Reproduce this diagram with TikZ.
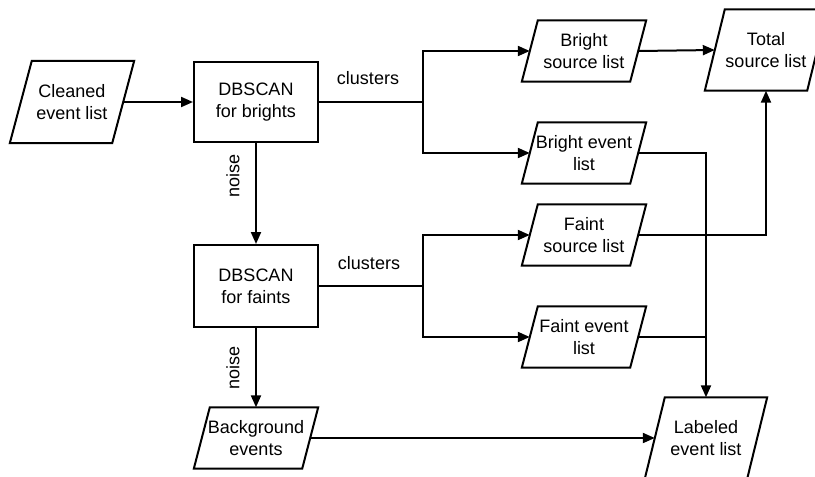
\documentclass[tikz,border=0pt]{standalone}
\usepackage{fontspec}
\setmainfont{Liberation Sans}
\usetikzlibrary{arrows.meta}
\tikzset{
  ln/.style={line width=2pt},
  arr/.style={ln, -{Triangle[length=12pt,width=10pt]}},
  txt/.style={align=center, inner sep=0pt, font=\fontsize{18}{22}\selectfont},
  rbox/.style={txt, draw, ln, minimum width=124pt},
  lbl/.style={txt},
}
\newcommand\paral[7]{%
  \node[txt, minimum width=#4pt, minimum height=#5pt] (#1) at (#2,#3) {#7};
  \draw[ln] ([xshift=-#6pt]#1.south west) -- ([xshift=#6pt]#1.north west)
    -- ([xshift=#6pt]#1.north east) -- ([xshift=-#6pt]#1.south east) -- cycle;
}
\begin{document}
\begin{tikzpicture}[x=1pt,y=-1pt]
\useasboundingbox (0,0) rectangle (815,477);
\paral{clean}{72}{102}{102}{82}{11}{Cleaned\\event list}
\node[rbox, minimum height=80pt] (b1) at (256,102) {DBSCAN\\for brights};
\node[rbox, minimum height=82pt] (b2) at (256,286) {DBSCAN\\for faints};
\paral{bg}{256}{438}{108}{61}{8}{Background\\events}
\paral{bsl}{584}{51}{108}{61}{8}{Bright\\source list}
\paral{bel}{584}{153}{108}{61}{8}{Bright event\\list}
\paral{fsl}{584}{235}{108}{61}{8}{Faint\\source list}
\paral{fel}{584}{337}{108}{61}{8}{Faint event\\list}
\paral{tot}{766}{50}{102}{81}{10}{Total\\source list}
\paral{lab}{706}{438}{102}{81}{10}{Labeled\\event list}
\coordinate (j1) at (423,102);
\coordinate (j2) at (423,286);
\draw[arr] (clean.east) -- (b1.west);
\draw[arr] (b1.south) -- (b2.north);
\draw[arr] (b2.south) -- (bg.north);
\draw[ln] (b1.east) -- (j1);
\draw[arr] (j1) |- (bsl.west);
\draw[arr] (j1) |- (bel.west);
\draw[ln] (b2.east) -- (j2);
\draw[arr] (j2) |- (fsl.west);
\draw[arr] (j2) |- (fel.west);
\draw[arr] (bsl.east) -- (tot.west);
\draw[arr] (fsl.east) -| (tot.south);
\draw[arr] (bel.east) -| (lab.north);
\draw[ln] (fel.east) -- (fel.east -| lab.north);
\draw[arr] (bg.east) -- (lab.west);
\node[lbl] (c1) at (368,78) {clusters};
\node[lbl] (c2) at (369,263) {clusters};
\node[lbl, rotate=90] (n1) at (233,176) {noise};
\node[lbl, rotate=90] (n2) at (233,368) {noise};
\end{tikzpicture}
\end{document}
